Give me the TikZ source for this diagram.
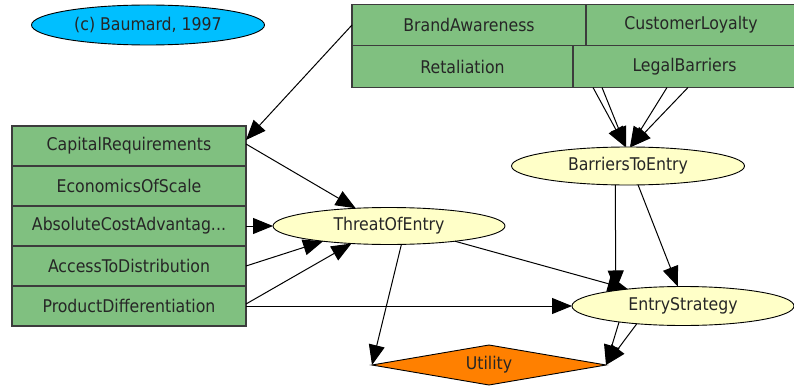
\documentclass[tikz,border=0pt]{standalone}
\usepackage{fontspec}
\setmainfont{DejaVu Sans Condensed}
\usetikzlibrary{arrows.meta,positioning,shapes.geometric}
\definecolor{boxgreen}{HTML}{80C080}
\definecolor{boxline}{HTML}{3C3C3C}
\definecolor{chance}{HTML}{FFFFC8}
\definecolor{note}{HTML}{00BFFF}
\definecolor{util}{HTML}{FF8000}

\begin{document}
\begin{tikzpicture}[
  x=1pt, y=-1pt,
  font=\fontsize{17.5}{19}\selectfont,
  box/.style={rectangle,draw=boxline,line width=1.6pt,fill=boxgreen,outer sep=0pt,
              minimum width=234pt,minimum height=40pt,inner sep=1pt,text=black!85},
  chancenode/.style={ellipse,draw=black,line width=0.9pt,fill=chance,inner sep=0pt,
              outer sep=0pt,text=black!85},
  arr/.style={-{Triangle[length=20pt,width=16pt]},line width=1pt,color=black}
]
  \useasboundingbox (0,0) rectangle (794,385);

  \node[ellipse,draw=black,line width=0.9pt,fill=note,minimum width=233pt,
        minimum height=40pt,text=black!85] (credit) at (148,25) {(c) Baumard, 1997};

  \node[box,minimum height=41pt] (BrandAwareness) at (469,25) {BrandAwareness};
  \node[box,minimum width=210pt,minimum height=41pt,right=0pt of BrandAwareness] (CustomerLoyalty) {CustomerLoyalty};
  \node[box,minimum width=221pt,minimum height=42pt,anchor=north west] (Retaliation) at (BrandAwareness.south west) {Retaliation};
  \node[box,minimum width=223pt,minimum height=42pt,right=0pt of Retaliation] (LegalBarriers) {LegalBarriers};

  \node[box] (CapitalRequirements) at (129,146) {CapitalRequirements};
  \node[box,below=0pt of CapitalRequirements] (EconomicsOfScale) {EconomicsOfScale};
  \node[box,below=0pt of EconomicsOfScale] (AbsoluteCostAdvantage) {AbsoluteCostAdvantag...};
  \node[box,below=0pt of AbsoluteCostAdvantage] (AccessToDistribution) {AccessToDistribution};
  \node[box,below=0pt of AccessToDistribution] (ProductDifferentiation) {ProductDifferentiation};

  \node[chancenode,minimum width=232pt,minimum height=37pt] (ThreatOfEntry) at (389,226) {ThreatOfEntry};
  \node[chancenode,minimum width=233pt,minimum height=38pt] (BarriersToEntry) at (628,166) {BarriersToEntry};
  \node[chancenode,minimum width=222pt,minimum height=39pt] (EntryStrategy) at (683,306) {EntryStrategy};
  \node[diamond,aspect=6,draw=black,line width=0.9pt,fill=util,inner sep=0pt,outer sep=0pt,
        minimum width=234pt,minimum height=40pt,text=black!85] (Utility) at (489,365) {Utility};

  \draw[arr] (BrandAwareness.west) -- ([yshift=-14pt]CapitalRequirements.north east);
  \draw[arr] ([yshift=2pt]CapitalRequirements.east) -- (ThreatOfEntry.152);
  \draw[arr] (AbsoluteCostAdvantage.east) -- (ThreatOfEntry.west);
  \draw[arr] (AccessToDistribution.east) -- (ThreatOfEntry.193);
  \draw[arr] ([yshift=2pt]ProductDifferentiation.east) -- (ThreatOfEntry.205);
  \draw[arr] (ProductDifferentiation.east) -- (EntryStrategy.west);

  \draw[arr] ([xshift=20pt]LegalBarriers.south west) -- (BarriersToEntry.98);
  \draw[arr] ([xshift=29pt]LegalBarriers.south west) -- (BarriersToEntry.96);
  \draw[arr] ([xshift=94pt]LegalBarriers.south west) -- (BarriersToEntry.84);
  \draw[arr] ([xshift=115pt]LegalBarriers.south west) -- (BarriersToEntry.81);

  \draw[arr] (ThreatOfEntry.-56) -- (Utility.west);
  \draw[arr] (ThreatOfEntry.-13) -- (EntryStrategy.163);
  \draw[arr] (BarriersToEntry.236) -- (EntryStrategy.167);
  \draw[arr] (BarriersToEntry.-62) -- (EntryStrategy.105);
  \draw[arr] (EntryStrategy.194) -- (Utility.east);
  \draw[arr] (EntryStrategy.201) -- (Utility.east);
\end{tikzpicture}
\end{document}
